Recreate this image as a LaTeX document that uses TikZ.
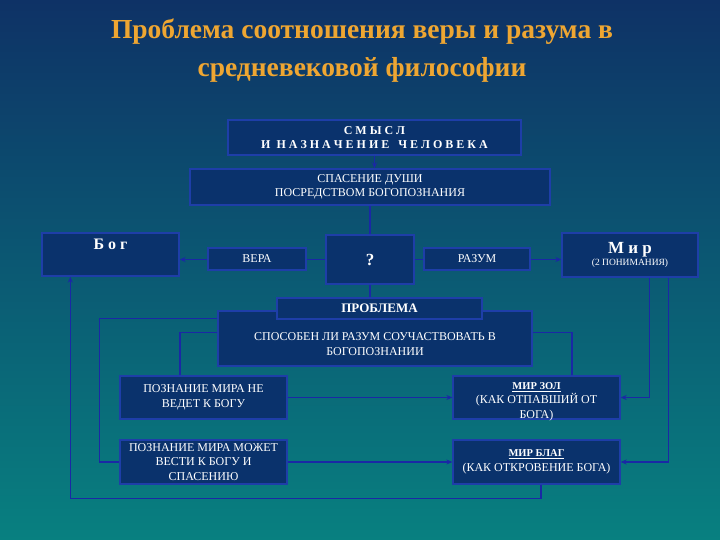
\documentclass[tikz,border=0pt]{standalone}
\usepackage{fontspec}
\setmainfont{Liberation Serif}
\usetikzlibrary{shapes,arrows.meta,positioning,calc,backgrounds}

\definecolor{bgtop}{RGB}{14,50,102}
\definecolor{bgmid}{RGB}{12,92,118}
\definecolor{bgbot}{RGB}{8,128,128}
\definecolor{boxfill}{RGB}{10,50,108}
\definecolor{boxline}{RGB}{30,62,168}
\definecolor{linkblue}{RGB}{26,40,165}
\definecolor{titlegold}{RGB}{238,166,50}

\begin{document}
\begin{tikzpicture}[x=1pt, y=-1pt,
    % Style definitions
    box/.style={rectangle, draw=boxline, fill=boxfill, line width=1.3pt, text=white, align=center, inner sep=2pt, font=\fontsize{12}{14.5}\selectfont},
    boxlabel/.style={text=white, align=center, font=\fontsize{12}{14.5}\selectfont},
    title/.style={text=titlegold, align=center, font=\fontsize{27.5}{38}\selectfont\bfseries},
    link/.style={draw=linkblue, line width=1.5pt},
    arrow/.style={link, -{Stealth[length=6pt, width=5pt]}}
]

% Background
\begin{scope}[on background layer]
    \fill[top color=bgtop, middle color=bgmid, bottom color=bgbot] (0,0) rectangle (720,540);
\end{scope}

% Title
\node[title] (title) at (362,51) {Проблема соотношения веры и разума в\\средневековой философии};

% Top level
\node[box, minimum width=293pt, minimum height=35pt, font=\fontsize{12}{14}\selectfont\bfseries] (smysl) at (374.5,137.5) {С М Ы С Л\\И~~Н А З Н А Ч Е Н И Е~~~Ч Е Л О В Е К А};
\node[box, minimum width=360pt, minimum height=36pt] (spasenie) at (370,187) {СПАСЕНИЕ ДУШИ\\ПОСРЕДСТВОМ БОГОПОЗНАНИЯ};

% Middle row
\node[box, minimum width=137pt, minimum height=43pt, label={[boxlabel, anchor=north, yshift=-3pt, font=\fontsize{16}{18}\selectfont\bfseries]north:Б о г}] (bog) at (110.5,254.5) {};
\node[box, minimum width=98pt, minimum height=22pt] (vera) at (257,259) {ВЕРА};
\node[box, minimum width=88pt, minimum height=49pt, font=\fontsize{17}{20}\selectfont\bfseries] (q) at (370,259.5) {?};
\node[box, minimum width=106pt, minimum height=22pt] (razum) at (477,259) {РАЗУМ};
\node[box, minimum width=136pt, minimum height=44pt] (mir) at (630,255) {{\fontsize{17}{18}\selectfont\bfseries М и р}\\[-3pt]{\fontsize{9.5}{10}\selectfont (2 ПОНИМАНИЯ)}};

% Problem
\node[box, minimum width=314pt, minimum height=55pt, label={[boxlabel, yshift=-5.5pt]center:{СПОСОБЕН ЛИ РАЗУМ СОУЧАСТВОВАТЬ В\\БОГОПОЗНАНИИ}}] (vopros) at (375,338.5) {};
\node[box, minimum width=205pt, minimum height=21pt, font=\fontsize{13}{15}\selectfont\bfseries] (problema) at (379.5,308.5) {ПРОБЛЕМА};

% Two answers
\node[box, minimum width=167pt, minimum height=43pt] (nezna) at (203.5,397.5) {ПОЗНАНИЕ МИРА НЕ\\ВЕДЕТ К БОГУ};
\node[box, minimum width=167pt, minimum height=44pt] (mozhet) at (203.5,462) {ПОЗНАНИЕ МИРА МОЖЕТ\\ВЕСТИ К БОГУ И\\СПАСЕНИЮ};
\node[box, minimum width=167pt, minimum height=43pt, label={[boxlabel, yshift=-4pt]center:{{\fontsize{10.5}{12}\selectfont\bfseries\underline{МИР ЗОЛ}}\\(КАК ОТПАВШИЙ ОТ\\БОГА)}}] (zol) at (536.5,397.5) {};
\node[box, minimum width=167pt, minimum height=44pt] (blag) at (536.5,462) {{\fontsize{10.5}{12}\selectfont\bfseries\underline{МИР БЛАГ}}\\(КАК ОТКРОВЕНИЕ БОГА)};

% Connections
\begin{scope}[on background layer]
    \draw[arrow] (smysl.south) -- (smysl.south |- spasenie.north);
    \draw[link] (spasenie) -- (q);
    \draw[arrow] (q.west) -- (q.west -| bog.east);
    \draw[arrow] (q.east) -- (q.east -| mir.west);
    \draw[link] (q.south) -- (q.south |- problema.north);

    \draw[link] ($(vopros.north west)+(0,8)$) -- ++(-118,0) |- (mozhet.west);
    \draw[link] ($(vopros.north west)+(0,22)$) -| ($(nezna.north)+(-23.5,0)$);
    \draw[link] ($(vopros.north east)+(0,22)$) -| ($(zol.north)+(35.5,0)$);

    \draw[arrow] (nezna) -- (zol);
    \draw[arrow] (mozhet) -- (blag);

    \draw[arrow] ($(mir.south west)+(88,0)$) |- (zol.east);
    \draw[arrow] ($(mir.south west)+(107,0)$) |- (blag.east);
    \draw[arrow] ($(blag.south)+(4.5,0)$) -- ++(0,14) -| ($(bog.south west)+(29,0)$);
\end{scope}

\end{tikzpicture}
\end{document}
